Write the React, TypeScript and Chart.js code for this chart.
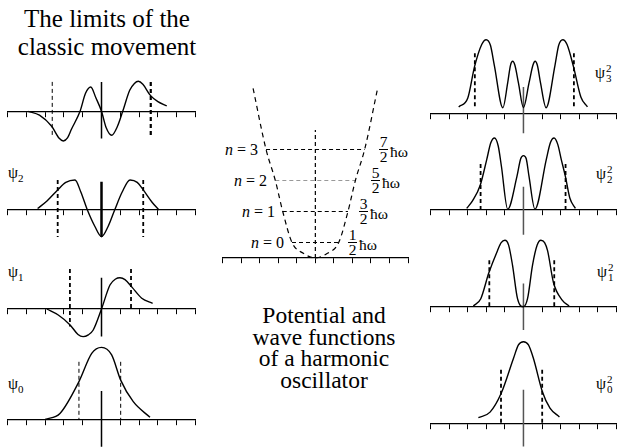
import React, { useEffect, useRef } from "react";
import { Chart, registerables } from "chart.js";
Chart.register(...registerables);

// ---------- data: wave functions (left column), x in oscillator units ----------
const psi3X = [-3.9, -3.3, -2.65, -2.25, -2.03, -1.8, -1.6, -1.14, -0.85, -0.57, -0.3, 0, 0.25, 0.54, 0.85, 1.13, 1.5, 1.75, 1.96, 2.2, 2.6, 3.0, 3.47];
const psi3Y = [0, -0.13, -0.5, -0.9, -0.99, -0.88, -0.6, 0, 0.6, 0.81, 0.45, 0, -0.55, -0.8, -0.5, 0, 0.7, 0.93, 1.0, 0.9, 0.53, 0.32, 0.18];
const psi2X = [-3.4, -2.9, -2.33, -1.9, -1.41, -1.1, -0.75, -0.35, 0, 0.35, 0.7, 1.1, 1.52, 1.9, 2.22, 2.7, 3.06];
const psi2Y = [0.05, 0.3, 0.67, 0.92, 1.0, 0.6, 0, -0.55, -0.89, -0.55, 0, 0.6, 1.0, 0.92, 0.67, 0.25, 0];
const psi1X = [-2.91, -2.3, -1.67, -1.25, -0.98, -0.7, -0.44, 0, 0.45, 0.75, 0.98, 1.25, 1.63, 2.14, 2.72];
const psi1Y = [0, -0.2, -0.53, -0.85, -0.92, -0.86, -0.7, 0, 0.8, 1.0, 1.04, 0.98, 0.72, 0.36, 0.19];
const psi0X = [-3.0, -2.21, -1.2, -0.52, 0, 0.54, 1.02, 1.69, 2.58];
const psi0Y = [0.02, 0.22, 1.28, 2.22, 2.42, 2.17, 1.33, 0.61, 0.09];

// ---------- data: probability densities (right column) ----------
const sq3X = [-3.49, -3.0, -2.64, -2.25, -2.01, -1.78, -1.57, -1.11, -0.85, -0.7, -0.58, -0.46, -0.27, 0, 0.3, 0.51, 0.63, 0.75, 0.92, 1.22, 1.7, 1.9, 2.12, 2.35, 2.7, 3.1, 3.45];
const sq3Y = [0.08, 0.19, 0.58, 0.86, 0.92, 0.85, 0.6, 0.07, 0.38, 0.6, 0.65, 0.6, 0.38, 0.07, 0.38, 0.6, 0.65, 0.6, 0.38, 0.07, 0.6, 0.85, 0.92, 0.86, 0.58, 0.2, 0.08];
const sq2X = [-3.06, -2.73, -2.33, -1.98, -1.76, -1.56, -1.36, -1.19, -0.85, -0.35, -0.15, 0, 0.15, 0.3, 0.62, 1.23, 1.45, 1.65, 1.85, 2.04, 2.26, 2.5, 2.8];
const sq2Y = [0.02, 0.12, 0.31, 0.63, 0.84, 0.9, 0.8, 0.55, 0.01, 0.42, 0.64, 0.68, 0.64, 0.42, 0.01, 0.63, 0.84, 0.9, 0.82, 0.63, 0.42, 0.15, 0.02];
const sq1X = [-2.7, -2.3, -1.87, -1.4, -1.2, -1.0, -0.8, -0.59, -0.32, 0, 0.22, 0.49, 0.74, 0.94, 1.14, 1.3, 1.62, 2.1, 2.46];
const sq1Y = [0.01, 0.1, 0.42, 0.7, 0.8, 0.83, 0.77, 0.52, 0.1, 0, 0.1, 0.52, 0.77, 0.83, 0.8, 0.7, 0.3, 0.08, 0.01];
const sq0X = [-2.43, -1.8, -1.2, -0.54, -0.27, 0, 0.27, 0.54, 1.02, 1.43, 1.94];
const sq0Y = [0.07, 0.14, 0.375, 0.81, 0.98, 1.02, 0.98, 0.81, 0.395, 0.19, 0.08];

// ---------- data: potential and energy levels (centre) ----------
const potX = [-3.36, -2.66, -2.16, -1.76, -1.26, -0.65, 0, 0.65, 1.26, 1.76, 2.16, 2.66, 3.36];
const potY = [5.47, 3.5, 2.5, 1.5, 0.5, 0.15, 0, 0.15, 0.5, 1.5, 2.5, 3.5, 5.47];
const levelN = [0, 1, 2, 3];
const levelE = [0.5, 1.5, 2.5, 3.5];
const levelHalf = [1.26, 1.76, 2.16, 2.66];
const levelNum = ["1", "3", "5", "7"];
const levelColor = ["#000", "#000", "#999", "#000"];
const potMidTop = 4.13;

// classical limits (left edge, right edge) and marker heights
const limPsi = [
  { l: -1.2, r: 1.02, top: 1.94, bot: 0, botR: 0 },
  { l: -1.68, r: 1.57, top: 1.33, bot: -0.58, botR: 0 },
  { l: -2.33, r: 2.22, top: 1.0, bot: -0.9, botR: -0.9 },
  { l: -2.62, r: 2.62, top: 0.98, bot: -0.87, botR: -0.87 },
];
const midPsi = [[0.97, -0.89], [1.04, -0.92], [0.94, -0.89], [0.98, -0.91]];
const limSq = [
  { l: -1.21, r: 1.01, top: 0.67, bot: 0 },
  { l: -1.84, r: 1.66, top: 0.58, bot: 0 },
  { l: -2.31, r: 2.27, top: 0.575, bot: 0 },
  { l: -2.62, r: 2.72, top: 0.75, bot: 0.06 },
];
const midSq = [[0.42, -0.29], [0.29, -0.29], [0.29, -0.31], [0.33, -0.25]];

type Line = { xs: number[]; ys: number[]; width: number; color: string; dash?: number[]; smooth?: boolean };

const seg = (x0: number, y0: number, x1: number, y1: number, width: number, color: string, dash?: number[]): Line => ({
  xs: [x0, x1], ys: [y0, y1], width, color, dash,
});

type PanelProps = {
  left: number; width: number; padL: number; padR: number;
  axisY: number; above: number; below: number; unit: number; lines: Line[];
};

function Panel(p: PanelProps) {
  const ref = useRef<HTMLCanvasElement>(null);
  const top = Math.round(p.axisY - p.above);
  const height = p.above + p.below;
  useEffect(() => {
    const ymax = (p.axisY - top) / p.unit;
    const ymin = ymax - height / p.unit;
    const chart = new Chart(ref.current as HTMLCanvasElement, {
      type: "line",
      data: {
        datasets: p.lines.map((l) => ({
          data: l.xs.map((x, i) => ({ x, y: l.ys[i] })),
          borderColor: l.color,
          borderWidth: l.width,
          borderDash: l.dash || [],
          pointRadius: 0,
          fill: false,
          cubicInterpolationMode: l.smooth ? "monotone" : "default",
          tension: 0,
          clip: false,
        })),
      },
      options: {
        animation: false,
        responsive: false,
        devicePixelRatio: 1,
        events: [],
        layout: { padding: { left: p.padL, right: p.padR, top: 0, bottom: 0 } },
        plugins: { legend: { display: false }, tooltip: { enabled: false } },
        scales: {
          x: {
            type: "linear",
            min: -5,
            max: 5,
            position: { y: 0 },
            ticks: { display: false, stepSize: 1 },
            grid: { drawOnChartArea: false, drawTicks: true, tickLength: 5, color: "#000", lineWidth: 1 },
            border: { display: true, color: "#000", width: 1.2 },
          },
          y: { type: "linear", display: false, min: ymin, max: ymax },
        },
      },
    } as any);
    return () => chart.destroy();
  }, []);
  return (
    <canvas
      ref={ref}
      width={p.width}
      height={height}
      style={{ position: "absolute", left: p.left, top, width: p.width, height }}
    />
  );
}

const DASH = [4, 3];

function leftLines(i: number, xs: number[], ys: number[], thickMid: number): Line[] {
  const lim = limPsi[i];
  const mid = midPsi[i];
  const dw = i === 0 ? 1 : 1.8;
  return [
    { xs, ys, width: 1.4, color: "#000", smooth: true },
    seg(0, mid[0], 0, mid[1], thickMid, "#000"),
    seg(lim.l, lim.top, lim.l, lim.bot, i === 3 ? 1 : dw, "#000", DASH),
    seg(lim.r, lim.top, lim.r, lim.botR, i === 3 ? 2.2 : dw, "#000", DASH),
  ];
}

function rightLines(i: number, xs: number[], ys: number[]): Line[] {
  const lim = limSq[i];
  const mid = midSq[i];
  return [
    { xs, ys, width: 1.4, color: "#000", smooth: true },
    seg(0, mid[0], 0, mid[1], 1.5, "#555"),
    seg(lim.l, lim.top, lim.l, lim.bot, 1.8, "#000", DASH),
    seg(lim.r, lim.top, lim.r, lim.bot, 1.8, "#000", DASH),
  ];
}

const centreLines: Line[] = [
  { xs: potX, ys: potY, width: 1.2, color: "#000", dash: [5, 4], smooth: true },
  seg(0, 0, 0, potMidTop, 1.2, "#000", DASH),
  ...levelN.map((n, i) => seg(-levelHalf[i], levelE[i], levelHalf[i], levelE[i], 1.2, levelColor[i], DASH)),
];

const serif = '"Liberation Serif"';

function PsiLabel({ left, cy, sub }: { left: number; cy: number; sub: string }) {
  return (
    <div style={{ position: "absolute", left, top: cy - 10, fontSize: 16, lineHeight: "20px", fontFamily: serif, whiteSpace: "nowrap" }}>
      ψ<span style={{ fontSize: 11, position: "relative", top: 4 }}>{sub}</span>
    </div>
  );
}

function SqLabel({ left, cy, sub }: { left: number; cy: number; sub: string }) {
  return (
    <div style={{ position: "absolute", left, top: cy - 10, fontSize: 16, lineHeight: "20px", fontFamily: serif, whiteSpace: "nowrap", display: "flex", alignItems: "center" }}>
      <span>ψ</span>
      <span style={{ display: "inline-flex", flexDirection: "column", fontSize: 11, lineHeight: "10px", marginLeft: 1 }}>
        <span>2</span>
        <span>{sub}</span>
      </span>
    </div>
  );
}

// layout for centre labels (pixels)
const cAxisY = 258;
const cUnit = 31;
const labelLayout = [
  { nRight: 284, fracLeft: 348 },
  { nRight: 275, fracLeft: 359 },
  { nRight: 267, fracLeft: 371 },
  { nRight: 258, fracLeft: 379 },
];

export default function App() {
  const leftCol = { left: 0, width: 200, padL: 7.5, padR: 4.5, above: 80, below: 35, unit: 30 };
  const rightCol = { left: 426, width: 192, padL: 4.7, padR: 1.8, above: 95, below: 35, unit: 80 };
  return (
    <div style={{ position: "absolute", left: 0, top: 0, width: 618, height: 448, background: "#fff", overflow: "hidden", fontFamily: serif, color: "#000" }}>
      <div style={{ position: "absolute", left: 0, top: 5, width: 214, textAlign: "center", fontSize: 25, lineHeight: "28px", fontFamily: serif }}>
        The limits of the<br />classic movement
      </div>
      <div style={{ position: "absolute", left: 224, top: 305, width: 200, textAlign: "center", fontSize: 23.5, lineHeight: "21.7px", fontFamily: serif }}>
        Potential and<br />wave functions<br />of a harmonic<br />oscillator
      </div>

      <PsiLabel left={8} cy={173} sub="2" />
      <PsiLabel left={8} cy={272} sub="1" />
      <PsiLabel left={8} cy={384} sub="0" />
      <SqLabel left={595} cy={73} sub="3" />
      <SqLabel left={596} cy={174} sub="2" />
      <SqLabel left={597} cy={272} sub="1" />
      <SqLabel left={596} cy={384} sub="0" />

      {levelN.map((n, i) => {
        const y = cAxisY - levelE[i] * cUnit;
        const lay = labelLayout[i];
        return (
          <React.Fragment key={n}>
            <div style={{ position: "absolute", right: 618 - lay.nRight, top: y - 10, fontSize: 16, lineHeight: "20px", whiteSpace: "nowrap", fontFamily: serif }}>
              <i>n</i> = {n}
            </div>
            <div style={{ position: "absolute", left: lay.fracLeft, top: y - 14, display: "flex", alignItems: "center", fontSize: 15.5, whiteSpace: "nowrap", fontFamily: serif }}>
              <span style={{ display: "inline-flex", flexDirection: "column", alignItems: "center", lineHeight: "12px" }}>
                <span>{levelNum[i]}</span>
                <span style={{ borderTop: "1px solid #000", width: 9, margin: "1px 0" }} />
                <span>2</span>
              </span>
              <span style={{ marginLeft: 2, marginTop: 6 }}>ħω</span>
            </div>
          </React.Fragment>
        );
      })}

      <Panel {...leftCol} axisY={111.3} lines={leftLines(3, psi3X, psi3Y, 1.5)} />
      <Panel {...leftCol} axisY={210} lines={leftLines(2, psi2X, psi2Y, 2.5)} />
      <Panel {...leftCol} axisY={309} lines={leftLines(1, psi1X, psi1Y, 1.5)} />
      <Panel {...leftCol} axisY={420} lines={leftLines(0, psi0X, psi0Y, 1.5)} />

      <Panel left={215} width={200} padL={7.7} padR={7} axisY={cAxisY} above={185} below={15} unit={cUnit} lines={centreLines} />

      <Panel {...rightCol} axisY={113.3} lines={rightLines(3, sq3X, sq3Y)} />
      <Panel {...rightCol} axisY={210} lines={rightLines(2, sq2X, sq2Y)} />
      <Panel {...rightCol} axisY={306.7} lines={rightLines(1, sq1X, sq1Y)} />
      <Panel {...rightCol} axisY={423.3} lines={rightLines(0, sq0X, sq0Y)} />
    </div>
  );
}
